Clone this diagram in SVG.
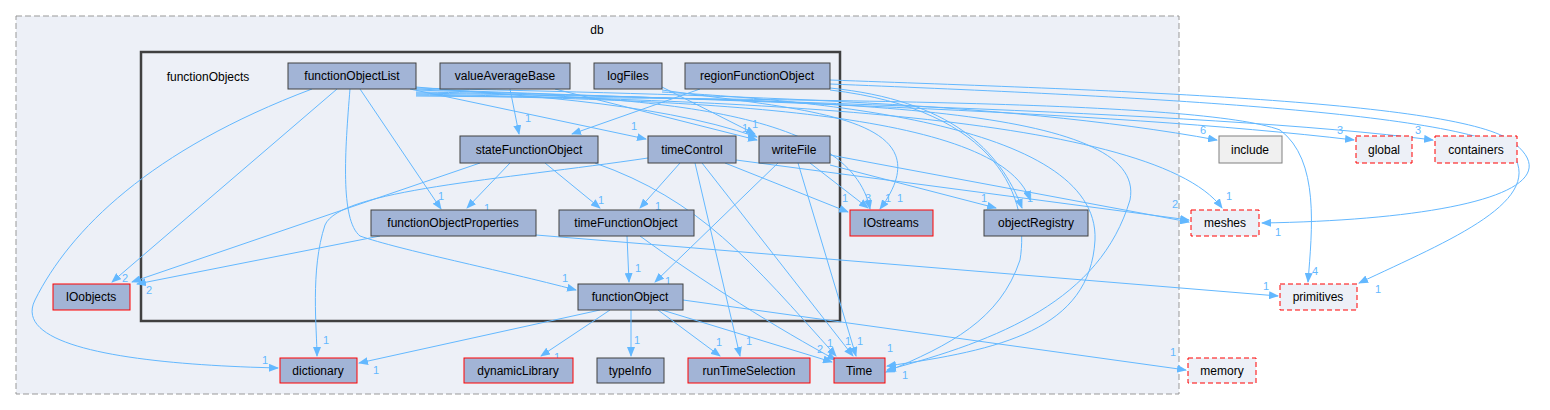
<svg xmlns="http://www.w3.org/2000/svg" width="1550" height="410" viewBox="0 0 1550 410">
<style>
text{font-family:"Liberation Sans",Arial,sans-serif;font-size:12px;fill:#000}
.n{fill:#a2b4d6;stroke:#404040;stroke-width:1}
.r{fill:#a2b4d6;stroke:#ff0000;stroke-width:1}
.x{fill:#edf0f7;stroke:#ff0000;stroke-width:1;stroke-dasharray:5,3}
.e path{fill:none;stroke:#63b8ff;stroke-width:1;marker-end:url(#a)}
.l{fill:#63b8ff;font-size:11px}
</style>
<defs><marker id="a" markerWidth="10" markerHeight="8" refX="9" refY="4" orient="auto" markerUnits="userSpaceOnUse"><path d="M0,0L10,4L0,8z" fill="#63b8ff"/></marker></defs>
<rect x="16" y="16" width="1163" height="378" fill="#edf0f7" stroke="#999999" stroke-dasharray="6,3"/>
<text x="597" y="34" text-anchor="middle">db</text>
<rect x="141" y="52" width="699" height="269" fill="#edf0f7" stroke="#404040" stroke-width="2.5"/>
<text x="208" y="81" text-anchor="middle">functionObjects</text>
<g class="e">
<path d="M312,89C150,150 70,230 35,300C10,350 150,365 278,368"/>
<path d="M337,89L112,282"/>
<path d="M360,89L441,209"/>
<path d="M350,89C345,150 340,220 360,236C400,250 500,270 576,290"/>
<path d="M410,89L646,139"/>
<path d="M416,87C500,95 650,100 757,137"/>
<path d="M416,88C700,95 1000,100 1217,140"/>
<path d="M416,89C700,100 1100,110 1354,140"/>
<path d="M416,90C700,100 1200,110 1433,140"/>
<path d="M416,92C650,95 850,110 870,209"/>
<path d="M416,93C800,100 1150,100 1130,200C1100,300 1000,340 887,370"/>
<path d="M416,94C700,100 1150,110 1222,208"/>
<path d="M416,95C700,100 1000,110 1030,200"/>
<path d="M416,96C800,100 1200,100 1280,130C1320,160 1312,230 1308,282"/>
<path d="M510,89L519,134"/>
<path d="M555,89L757,140"/>
<path d="M660,86L755,134"/>
<path d="M662,90C800,110 950,115 880,209"/>
<path d="M662,92C800,100 1100,120 1095,240C1090,330 1000,350 887,366"/>
<path d="M700,89L572,134"/>
<path d="M830,88C950,100 1000,150 1022,208"/>
<path d="M830,80C1100,90 1450,100 1510,140C1580,190 1450,220 1262,223"/>
<path d="M830,84C1100,95 1450,110 1510,150C1550,200 1450,240 1359,283"/>
<path d="M830,90C1000,110 1030,200 1020,260C1000,320 950,345 886,372"/>
<path d="M480,163L132,282"/>
<path d="M510,163L467,208"/>
<path d="M545,163L600,208"/>
<path d="M595,163C700,200 750,260 836,356"/>
<path d="M648,158C500,180 340,190 325,225C310,270 317,330 317,356"/>
<path d="M680,163L640,208"/>
<path d="M695,163L740,356"/>
<path d="M702,163L853,356"/>
<path d="M725,163L848,212"/>
<path d="M736,160L1189,220"/>
<path d="M778,163L655,282"/>
<path d="M798,163L856,356"/>
<path d="M810,163L868,208"/>
<path d="M830,165L996,208"/>
<path d="M830,155L1189,222"/>
<path d="M380,236L137,284"/>
<path d="M536,235L1278,296"/>
<path d="M627,236L629,282"/>
<path d="M640,236C700,280 780,330 836,360"/>
<path d="M600,310L359,363"/>
<path d="M610,310L541,356"/>
<path d="M631,310L631,356"/>
<path d="M658,310L720,356"/>
<path d="M662,310L832,362"/>
<path d="M683,300L1186,370"/>
</g>
<g class="lbl">
<text class="l" x="262" y="364">1</text>
<text class="l" x="122" y="282">2</text>
<text class="l" x="146" y="294">2</text>
<text class="l" x="438" y="200">1</text>
<text class="l" x="484" y="212">1</text>
<text class="l" x="562" y="282">1</text>
<text class="l" x="631" y="130">1</text>
<text class="l" x="525" y="122">1</text>
<text class="l" x="585" y="144">1</text>
<text class="l" x="752" y="128">1</text>
<text class="l" x="742" y="132">1</text>
<text class="l" x="598" y="204">1</text>
<text class="l" x="655" y="210">1</text>
<text class="l" x="635" y="272">1</text>
<text class="l" x="665" y="285">1</text>
<text class="l" x="323" y="344">1</text>
<text class="l" x="373" y="374">1</text>
<text class="l" x="554" y="361">1</text>
<text class="l" x="634" y="344">1</text>
<text class="l" x="716" y="346">1</text>
<text class="l" x="746" y="345">1</text>
<text class="l" x="817" y="353">2</text>
<text class="l" x="827" y="347">1</text>
<text class="l" x="845" y="345">1</text>
<text class="l" x="857" y="345">1</text>
<text class="l" x="887" y="352">1</text>
<text class="l" x="902" y="379">1</text>
<text class="l" x="842" y="202">1</text>
<text class="l" x="865" y="202">3</text>
<text class="l" x="885" y="202">1</text>
<text class="l" x="897" y="202">1</text>
<text class="l" x="981" y="202">1</text>
<text class="l" x="1027" y="202">1</text>
<text class="l" x="1172" y="208">2</text>
<text class="l" x="1226" y="200">1</text>
<text class="l" x="1275" y="236">1</text>
<text class="l" x="1200" y="134">6</text>
<text class="l" x="1337" y="134">3</text>
<text class="l" x="1415" y="134">3</text>
<text class="l" x="1312" y="275">4</text>
<text class="l" x="1263" y="290">1</text>
<text class="l" x="1375" y="293">1</text>
<text class="l" x="1170" y="356">1</text>
</g>
<g id="functionObjectList"><rect class="n" x="288" y="63" width="128" height="26"/><text x="352" y="80" text-anchor="middle">functionObjectList</text></g>
<g id="valueAverageBase"><rect class="n" x="440" y="63" width="130" height="26"/><text x="505" y="80" text-anchor="middle">valueAverageBase</text></g>
<g id="logFiles"><rect class="n" x="594" y="63" width="68" height="26"/><text x="628" y="80" text-anchor="middle">logFiles</text></g>
<g id="regionFunctionObject"><rect class="n" x="685" y="63" width="145" height="26"/><text x="757" y="80" text-anchor="middle">regionFunctionObject</text></g>
<g id="stateFunctionObject"><rect class="n" x="460" y="136" width="138" height="27"/><text x="529" y="154" text-anchor="middle">stateFunctionObject</text></g>
<g id="timeControl"><rect class="n" x="648" y="136" width="88" height="27"/><text x="692" y="154" text-anchor="middle">timeControl</text></g>
<g id="writeFile"><rect class="n" x="759" y="136" width="71" height="27"/><text x="794" y="154" text-anchor="middle">writeFile</text></g>
<g id="functionObjectProperties"><rect class="n" x="371" y="210" width="165" height="26"/><text x="453" y="227" text-anchor="middle">functionObjectProperties</text></g>
<g id="timeFunctionObject"><rect class="n" x="559" y="210" width="135" height="26"/><text x="626" y="227" text-anchor="middle">timeFunctionObject</text></g>
<g id="functionObject"><rect class="n" x="578" y="284" width="105" height="26"/><text x="630" y="301" text-anchor="middle">functionObject</text></g>
<g id="IOobjects"><rect class="r" x="53" y="284" width="77" height="26"/><text x="91" y="301" text-anchor="middle">IOobjects</text></g>
<g id="IOstreams"><rect class="r" x="850" y="210" width="83" height="26"/><text x="891" y="227" text-anchor="middle">IOstreams</text></g>
<g id="objectRegistry"><rect class="n" x="984" y="210" width="104" height="26"/><text x="1036" y="227" text-anchor="middle">objectRegistry</text></g>
<g id="dictionary"><rect class="r" x="280" y="358" width="77" height="25"/><text x="318" y="375" text-anchor="middle">dictionary</text></g>
<g id="dynamicLibrary"><rect class="r" x="464" y="358" width="109" height="25"/><text x="518" y="375" text-anchor="middle">dynamicLibrary</text></g>
<g id="typeInfo"><rect class="n" x="597" y="358" width="67" height="25"/><text x="630" y="375" text-anchor="middle">typeInfo</text></g>
<g id="runTimeSelection"><rect class="r" x="688" y="358" width="122" height="25"/><text x="749" y="375" text-anchor="middle">runTimeSelection</text></g>
<g id="Time"><rect class="r" x="834" y="358" width="51" height="25"/><text x="859" y="375" text-anchor="middle">Time</text></g>
<g id="include"><rect x="1219" y="136" width="63" height="27" fill="#f0f0f0" stroke="#808080"/><text x="1250" y="154" text-anchor="middle">include</text></g>
<g id="global"><rect class="x" x="1356" y="136" width="56" height="27"/><text x="1384" y="154" text-anchor="middle">global</text></g>
<g id="containers"><rect class="x" x="1435" y="136" width="82" height="27"/><text x="1476" y="154" text-anchor="middle">containers</text></g>
<g id="meshes"><rect class="x" x="1191" y="210" width="68" height="26"/><text x="1225" y="227" text-anchor="middle">meshes</text></g>
<g id="primitives"><rect class="x" x="1280" y="284" width="77" height="26"/><text x="1318" y="301" text-anchor="middle">primitives</text></g>
<g id="memory"><rect class="x" x="1188" y="358" width="68" height="25"/><text x="1222" y="375" text-anchor="middle">memory</text></g>
</svg>
